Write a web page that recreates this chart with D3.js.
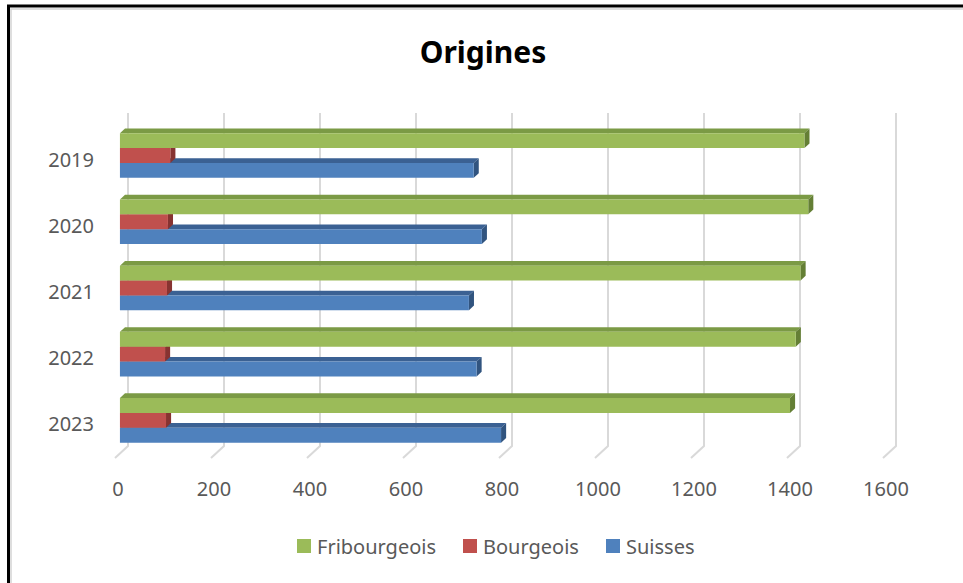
<!DOCTYPE html>
<html>
<head>
<meta charset="utf-8">
<script src="https://cdn.jsdelivr.net/npm/d3@7"></script>
<style>
  html, body { margin: 0; padding: 0; background: #fff; }
  svg text { font-family: 'Noto Sans', 'Open Sans', sans-serif; }
</style>
</head>
<body>
<div id="chart"></div>
<script>
// data
const years = ['2019', '2020', '2021', '2022', '2023']
const series = ['Fribourgeois', 'Bourgeois', 'Suisses']
const fribourgeois = [1426, 1434, 1418, 1408, 1396]
const bourgeois = [105, 100, 98, 94, 96]
const suisses = [737, 754, 727, 743, 794]
const ticks = [0, 200, 400, 600, 800, 1000, 1200, 1400, 1600]

const values = { Fribourgeois: fribourgeois, Bourgeois: bourgeois, Suisses: suisses }

const colors = {
  Fribourgeois: { front: '#9BBB59', top: '#7B9A45', side: '#647F35' },
  Bourgeois:    { front: '#C0504D', top: '#9A3D3A', side: '#873331' },
  Suisses:      { front: '#4F81BD', top: '#3B6193', side: '#31547F' }
}

const width = 963
const height = 583

// oblique 3d: full floor depth shifts by (13, -12)
const depthX = 13
const depthY = -12
const barNear = 0.38
const barFar = 0.77
const floorY = 458

const x = d3.scaleLinear().domain([0, 1600]).range([115, 883])
const y = d3.scaleBand().domain(years).range([127, floorY]).paddingInner(0.326).paddingOuter(0.163)
const ySub = d3.scaleBand().domain(series).range([0, y.bandwidth()])

const proj = (v, yy, d) => [x(v) + d * depthX, yy + d * depthY]

const svg = d3.select('#chart').append('svg')
  .attr('width', width)
  .attr('height', height)

// frame
svg.append('path')
  .attr('d', `M8.5,${height} L8.5,6 L${width},6`)
  .attr('fill', 'none')
  .attr('stroke', '#000')
  .attr('stroke-width', 3)
svg.append('path')
  .attr('d', `M11,${height} L11,9 L${width},9`)
  .attr('fill', 'none')
  .attr('stroke', '#d4d4d4')
  .attr('stroke-width', 1.5)

svg.append('text')
  .attr('x', 483)
  .attr('y', 63)
  .attr('text-anchor', 'middle')
  .attr('font-size', 30)
  .attr('font-weight', 'bold')
  .attr('fill', '#000')
  .text('Origines')

// gridlines on the back wall + floor diagonals
const grid = svg.append('g')
  .attr('stroke', '#d9d9d9')
  .attr('stroke-width', 2)
  .attr('fill', 'none')

grid.selectAll('path').data(ticks).enter()
  .append('path')
  .attr('d', v => {
    let a = proj(v, floorY, 0)
    let b = proj(v, floorY, 1)
    return `M${a[0]},${a[1]} L${b[0]},${b[1]} L${b[0]},113`
  })

svg.append('g').selectAll('text').data(ticks).enter()
  .append('text')
  .attr('x', v => x(v) + 3)
  .attr('y', 488)
  .attr('text-anchor', 'middle')
  .attr('dominant-baseline', 'central')
  .attr('font-size', 20)
  .attr('fill', '#595959')
  .text(v => v)

svg.append('g').selectAll('text').data(years).enter()
  .append('text')
  .attr('x', 94)
  .attr('y', d => y(d) + y.bandwidth() / 2 - 1)
  .attr('text-anchor', 'end')
  .attr('dominant-baseline', 'central')
  .attr('font-size', 20)
  .attr('fill', '#595959')
  .text(d => d)

// bars: bottom group first, and inside a group bottom series first
const bars = []
years.slice().reverse().forEach(year => {
  let i = years.indexOf(year)
  series.slice().reverse().forEach(s => {
    bars.push({ year, s, v: values[s][i] })
  })
})

const pts = arr => arr.map(p => p.join(',')).join(' ')

const bar = svg.append('g').selectAll('g').data(bars).enter()
  .append('g')

bar.append('polygon')
  .attr('fill', d => colors[d.s].top)
  .attr('points', d => {
    let y1 = y(d.year) + ySub(d.s)
    return pts([proj(0, y1, barNear), proj(d.v, y1, barNear), proj(d.v, y1, barFar), proj(0, y1, barFar)])
  })

bar.append('polygon')
  .attr('fill', d => colors[d.s].side)
  .attr('points', d => {
    let y1 = y(d.year) + ySub(d.s)
    let y2 = y1 + ySub.bandwidth()
    return pts([proj(d.v, y1, barNear), proj(d.v, y1, barFar), proj(d.v, y2, barFar), proj(d.v, y2, barNear)])
  })

bar.append('polygon')
  .attr('fill', d => colors[d.s].front)
  .attr('points', d => {
    let y1 = y(d.year) + ySub(d.s)
    let y2 = y1 + ySub.bandwidth()
    return pts([proj(0, y1, barNear), proj(d.v, y1, barNear), proj(d.v, y2, barNear), proj(0, y2, barNear)])
  })

// legend
const legendX = [297, 463, 606]
const legend = svg.append('g').selectAll('g').data(series).enter()
  .append('g')
  .attr('transform', (d, i) => `translate(${legendX[i]}, 546)`)

legend.append('rect')
  .attr('x', 0)
  .attr('y', -7)
  .attr('width', 14)
  .attr('height', 14)
  .attr('fill', d => colors[d].front)

legend.append('text')
  .attr('x', 20)
  .attr('y', 0)
  .attr('dominant-baseline', 'central')
  .attr('font-size', 20)
  .attr('fill', '#595959')
  .text(d => d)
</script>
</body>
</html>
